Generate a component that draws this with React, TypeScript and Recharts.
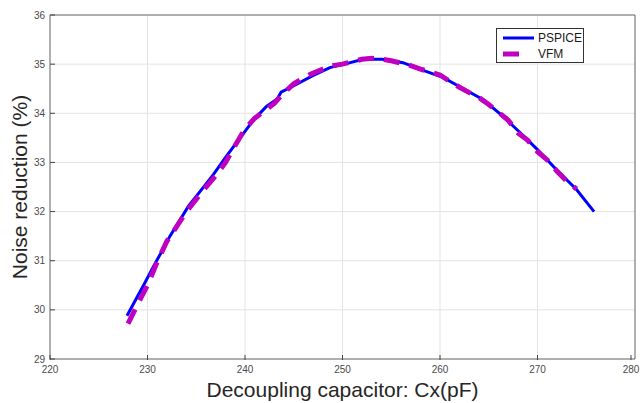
import React from 'react';
import { LineChart, Line, XAxis, YAxis, CartesianGrid, ReferenceLine } from 'recharts';

// values
const pspiceX = [227.9, 228.8, 229.6, 230.6, 231.5, 232.3, 233.3, 234.2, 235.4, 236.75, 238.1, 239.5, 240.9, 242.2, 243.3, 243.7, 245.2, 246.9, 248.7, 250.4, 252.1, 254.1, 256.2, 258.2, 260.3, 262.3, 264.4, 266.1, 268.1, 270.0, 271.9, 274.0, 275.8];
const pspiceY = [29.88, 30.21, 30.5, 30.88, 31.2, 31.5, 31.82, 32.11, 32.41, 32.75, 33.13, 33.5, 33.87, 34.14, 34.29, 34.43, 34.58, 34.76, 34.93, 35.01, 35.1, 35.1, 35.03, 34.88, 34.73, 34.51, 34.28, 34.0, 33.63, 33.26, 32.86, 32.45, 32.0];

const vfmX = [228, 229, 230, 231, 232, 233, 234, 235, 236, 237, 238, 239, 240, 241, 242, 243, 244, 245, 246, 247, 248, 249, 250, 251, 252, 253, 254, 255, 256, 257, 258, 259, 260, 261, 262, 263, 264, 265, 266, 267, 268, 269, 270, 271, 272, 273, 274];
const vfmY = [29.72, 30.12, 30.5, 30.98, 31.4, 31.7, 32.0, 32.25, 32.5, 32.73, 33.0, 33.35, 33.68, 33.9, 34.05, 34.2, 34.42, 34.6, 34.72, 34.82, 34.9, 34.97, 35.0, 35.05, 35.1, 35.12, 35.1, 35.07, 35.02, 34.97, 34.9, 34.84, 34.78, 34.65, 34.53, 34.42, 34.32, 34.18, 34.02, 33.86, 33.6, 33.45, 33.22, 33.05, 32.82, 32.62, 32.46];

const xTicks = [220, 230, 240, 250, 260, 270, 280];
const yTicks = [29, 30, 31, 32, 33, 34, 35, 36];
const seriesNames = ['PSPICE', 'VFM'];

const pspiceData = pspiceX.map((x, i) => ({ x, y: pspiceY[i] }));
const vfmData = vfmX.map((x, i) => ({ x, y: vfmY[i] }));

const FONT = '"Liberation Sans", Arial, Helvetica, sans-serif';
const AXIS = '#6f6f6f';
const TICK = '#444';
const BLUE = '#0000ff';
const MAGENTA = '#c000c0';

// MATLAB style: tick marks point into the plot
function XTick(p: any) {
  return (
    <g>
      <line x1={p.x} x2={p.x} y1={p.y - 6} y2={p.y - 11} stroke={TICK} />
      <text x={p.x} y={p.y} dy="0.71em" textAnchor="middle" fontFamily={FONT} fontSize={10} fill="#4a4a4a">{p.payload.value}</text>
    </g>
  );
}

function YTick(p: any) {
  return (
    <g>
      <line x1={p.x + 5} x2={p.x + 10} y1={p.y} y2={p.y} stroke={TICK} />
      <text x={p.x} y={p.y} dy="0.35em" textAnchor="end" fontFamily={FONT} fontSize={10} fill="#4a4a4a">{p.payload.value}</text>
    </g>
  );
}

function LegendBox() {
  return (
    <div style={{ position: 'absolute', left: 496, top: 28, width: 86, height: 33, border: '1px solid #333', background: '#fff' }}>
      <svg width={86} height={33} style={{ position: 'absolute', left: 0, top: 0 }}>
        <line x1={6} x2={37} y1={9} y2={9} stroke={BLUE} strokeWidth={3} />
        <line x1={6} x2={37} y1={25} y2={25} stroke={MAGENTA} strokeWidth={5} strokeDasharray="16 20" />
        <text x={41} y={13} fontFamily={FONT} fontSize={12} fill="#1a1a1a">{seriesNames[0]}</text>
        <text x={41} y={29} fontFamily={FONT} fontSize={12} fill="#1a1a1a">{seriesNames[1]}</text>
      </svg>
    </div>
  );
}

export default function App() {
  return (
    <div style={{ position: 'relative', width: 643, height: 403, background: '#fff' }}>
      <style>{'body{margin:0}'}</style>
      <LineChart width={643} height={403} margin={{ top: 15, right: 8, left: 0, bottom: 0 }}>
        <CartesianGrid stroke="#e3e3e3" strokeWidth={1} />
        <XAxis dataKey="x" type="number" domain={[220, 280]} ticks={xTicks} allowDataOverflow height={44}
          tick={<XTick />} tickSize={0} tickMargin={7} tickLine={false} axisLine={{ stroke: AXIS }}
          label={{ content: (p: any) => (
            <text x={p.viewBox.x + p.viewBox.width / 2} y={p.viewBox.y + 38} textAnchor="middle" fontFamily={FONT} fontSize={21} fill="#262626">Decoupling capacitor: Cx(pF)</text>
          ) }} />
        <YAxis type="number" domain={[29, 36]} ticks={yTicks} allowDataOverflow width={50}
          tick={<YTick />} tickSize={0} tickMargin={5} tickLine={false} axisLine={{ stroke: AXIS }}
          label={{ content: (p: any) => {
            const cx = p.viewBox.x + 27;
            const cy = p.viewBox.y + p.viewBox.height / 2;
            return (
              <text x={cx} y={cy} transform={`rotate(-90 ${cx} ${cy})`} textAnchor="middle" fontFamily={FONT} fontSize={21} fill="#262626">Noise reduction (%)</text>
            );
          } }} />
        <ReferenceLine x={280} stroke={AXIS} />
        <ReferenceLine y={36} stroke={AXIS} />
        <Line data={pspiceData} dataKey="y" name={seriesNames[0]} type="linear" stroke={BLUE} strokeWidth={3} dot={false} isAnimationActive={false} />
        <Line data={vfmData} dataKey="y" name={seriesNames[1]} type="linear" stroke={MAGENTA} strokeWidth={5} strokeDasharray="16 10" dot={false} isAnimationActive={false} />
      </LineChart>
      <LegendBox />
    </div>
  );
}
